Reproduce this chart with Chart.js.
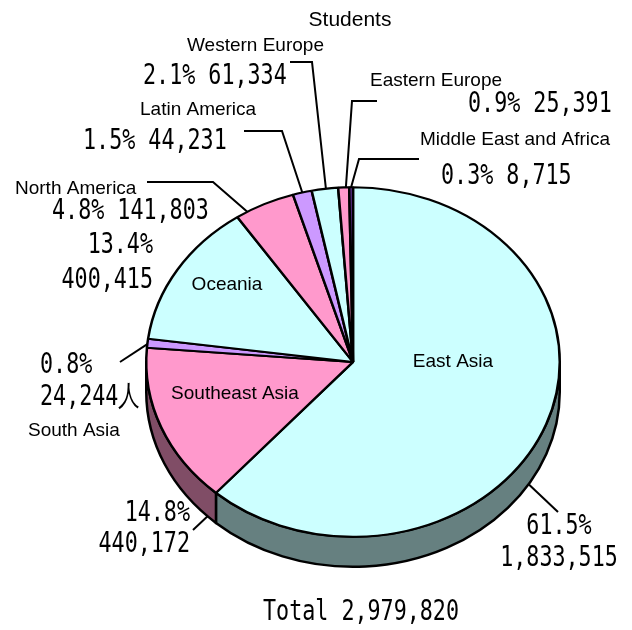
<!DOCTYPE html>
<html>
<head>
<meta charset="utf-8">
<title>Students</title>
<script src="https://cdn.jsdelivr.net/npm/chart.js@4.4.0/dist/chart.umd.min.js"></script>
<style>
  html, body { margin: 0; padding: 0; background: #fff; }
  #wrap { width: 632px; height: 630px; }
</style>
</head>
<body>
<div id="wrap"><canvas id="pieChart" width="632" height="630"></canvas></div>
<script>
// Data (clockwise from 12 o'clock)
const chartTitle = 'Students';
const regions = ['East Asia', 'Southeast Asia', 'South Asia', 'Oceania', 'North America',
                 'Latin America', 'Western Europe', 'Eastern Europe', 'Middle East and Africa'];
const students = [1833515, 440172, 24244, 400415, 141803, 44231, 61334, 25391, 8715];
const shares = ['61.5%', '14.8%', '0.8%', '13.4%', '4.8%', '1.5%', '2.1%', '0.9%', '0.3%'];
const totalLabel = 'Total';
const totalStudents = 2979820;

// Styles
const sliceColors = ['#CCFFFF', '#FF99CC', '#CC99FF', '#CCFFFF', '#FF99CC',
                     '#CC99FF', '#CCFFFF', '#FF99CC', '#663399'];
const TILT = 175 / 207;   // vertical squash of the pie
const DEPTH = 30;         // thickness of the 3d side
const NAME_FONT = '19px "Liberation Sans", Arial, sans-serif';
const TITLE_FONT = '21px "Liberation Sans", Arial, sans-serif';
const NUM_FONT = '28px "DejaVu Sans Mono", monospace';
const NUM_SCALE_X = 0.775;

function shade(hex, f) {
  const n = parseInt(hex.slice(1), 16);
  const r = Math.round(((n >> 16) & 255) * f);
  const g = Math.round(((n >> 8) & 255) * f);
  const b = Math.round((n & 255) * f);
  return `rgb(${r},${g},${b})`;
}
const sideColors = sliceColors.map(c => shade(c, 0.5));

const fmt = n => n.toLocaleString('en-US');

// Where each label sits, and its leader line (t = position inside the slice)
const labelLayout = [
  { name: { x: 453, y: 362, align: 'center' },
    value: { x: 559, y: [527, 559], align: 'center' },
    leader: { t: 0.55, side: true, to: [[558, 512]] } },
  { name: { x: 235, y: 394, align: 'center' },
    value: { x: 190, y: [514, 545], align: 'right' },
    leader: { t: 0.06, side: true, to: [[193, 530]] } },
  { name: { x: 28, y: 431, align: 'left' },
    value: { x: 40, y: [366, 398], align: 'left', suffix: '人' },
    leader: { t: 0.4, side: false, to: [[120, 362]] } },
  { name: { x: 227, y: 285, align: 'center' },
    value: { x: 153, y: [246, 281], align: 'right' } },
  { name: { x: 15, y: 189, align: 'left' },
    value: { x: 52, y: [212], align: 'left' },
    leader: { t: 0.19, side: false, to: [[213, 182], [147, 182]] } },
  { name: { x: 140, y: 110, align: 'left' },
    value: { x: 83, y: [142], align: 'left' },
    leader: { t: 0.5, side: false, to: [[282, 131], [244, 131]] } },
  { name: { x: 187, y: 46, align: 'left' },
    value: { x: 143, y: [77], align: 'left' },
    leader: { t: 0.54, side: false, to: [[312, 62], [290, 62]] } },
  { name: { x: 370, y: 81, align: 'left' },
    value: { x: 468, y: [105], align: 'left' },
    leader: { t: 0.7, side: false, to: [[352, 101], [377, 101]] } },
  { name: { x: 420, y: 140, align: 'left' },
    value: { x: 441, y: [177], align: 'left' },
    leader: { t: 0.5, side: false, to: [[359, 159], [419, 159]] } }
];

function numText(ctx, text, x, y, align) {
  ctx.save();
  ctx.font = NUM_FONT;
  ctx.textAlign = align;
  ctx.textBaseline = 'middle';
  ctx.translate(x, y);
  ctx.scale(NUM_SCALE_X, 1);
  ctx.fillText(text, 0, 0);
  ctx.restore();
}

// 3d side + squash the pie into an ellipse
const pie3d = {
  id: 'pie3d',
  beforeDatasetsDraw(chart) {
    const ctx = chart.ctx;
    const arcs = chart.getDatasetMeta(0).data;
    const cx = arcs[0].x, cy = arcs[0].y, R = arcs[0].outerRadius;
    ctx.save();
    ctx.lineWidth = 2.5;
    ctx.strokeStyle = '#000';
    ctx.lineJoin = 'round';
    arcs.forEach((arc, i) => {
      // only the front half (0..PI) shows its side
      const segs = [[0, Math.PI], [2 * Math.PI, 3 * Math.PI]];
      segs.forEach(([lo, hi]) => {
        const a = Math.max(arc.startAngle, lo);
        const b = Math.min(arc.endAngle, hi);
        if (b <= a) return;
        ctx.beginPath();
        ctx.ellipse(cx, cy, R, R * TILT, 0, a, b);
        ctx.ellipse(cx, cy + DEPTH, R, R * TILT, 0, b, a, true);
        ctx.closePath();
        ctx.fillStyle = sideColors[i];
        ctx.fill();
        ctx.stroke();
      });
    });
    ctx.restore();
    ctx.save();
    ctx.translate(cx, cy);
    ctx.scale(1, TILT);
    ctx.translate(-cx, -cy);
  },
  afterDatasetsDraw(chart) {
    chart.ctx.restore();
  }
};

const pieLabels = {
  id: 'pieLabels',
  afterDraw(chart) {
    const ctx = chart.ctx;
    const arcs = chart.getDatasetMeta(0).data;
    const cx = arcs[0].x, cy = arcs[0].y, R = arcs[0].outerRadius;
    ctx.save();
    ctx.fillStyle = '#000';

    // title
    ctx.font = TITLE_FONT;
    ctx.textAlign = 'center';
    ctx.textBaseline = 'middle';
    ctx.fillText(chartTitle, 350, 20);

    labelLayout.forEach((lay, i) => {
      const arc = arcs[i];
      if (lay.leader) {
        const ang = arc.startAngle + (arc.endAngle - arc.startAngle) * lay.leader.t;
        const px = cx + R * Math.cos(ang);
        const py = cy + R * TILT * Math.sin(ang) + (lay.leader.side ? DEPTH : 0);
        ctx.beginPath();
        ctx.moveTo(px, py);
        lay.leader.to.forEach(p => ctx.lineTo(p[0], p[1]));
        ctx.lineWidth = 2;
        ctx.strokeStyle = '#000';
        ctx.stroke();
      }
      ctx.font = NAME_FONT;
      ctx.textAlign = lay.name.align;
      ctx.textBaseline = 'middle';
      ctx.fillText(regions[i], lay.name.x, lay.name.y);

      const count = fmt(students[i]) + (lay.value.suffix || '');
      if (lay.value.y.length === 2) {
        numText(ctx, shares[i], lay.value.x, lay.value.y[0], lay.value.align);
        numText(ctx, count, lay.value.x, lay.value.y[1], lay.value.align);
      } else {
        numText(ctx, shares[i] + ' ' + count, lay.value.x, lay.value.y[0], lay.value.align);
      }
    });

    numText(ctx, totalLabel + ' ' + fmt(totalStudents), 361, 613, 'center');
    ctx.restore();
  }
};

const pieChart = new Chart(document.getElementById('pieChart'), {
  type: 'pie',
  data: {
    labels: regions,
    datasets: [{
      data: students,
      backgroundColor: sliceColors,
      borderColor: '#000',
      borderWidth: 2.5,
      hoverBorderWidth: 2.5,
      hoverOffset: 0,
      offset: 0,
      clip: false
    }]
  },
  options: {
    responsive: false,
    animation: false,
    events: [],
    layout: { padding: { left: 145, top: 154, right: 71, bottom: 60 } },
    plugins: {
      legend: { display: false },
      tooltip: { enabled: false },
      title: { display: false }
    }
  },
  plugins: [pie3d, pieLabels]
});
</script>
</body>
</html>
